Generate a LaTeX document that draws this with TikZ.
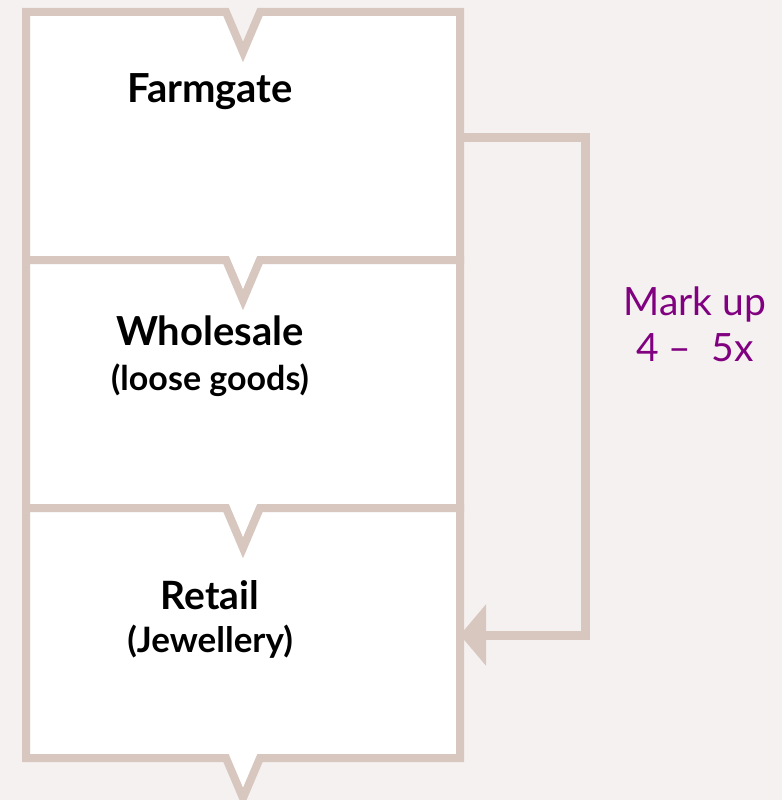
\documentclass[tikz,border=0pt]{standalone}
\usepackage{fontspec}
\setmainfont{Lato}
\usetikzlibrary{arrows.meta}
\definecolor{bgc}{HTML}{F5F1F0}
\definecolor{edgec}{HTML}{D7C7BF}
\definecolor{markc}{HTML}{800080}
\begin{document}
\begin{tikzpicture}[x=1pt,y=-1pt,
  stagebox/.style={draw=edgec, fill=white, line width=8pt, line join=miter},
  conn/.style={draw=edgec, line width=9pt, -{Triangle[length=26pt,width=60pt]}},
  stagetitle/.style={font=\fontsize{40}{44}\selectfont\bfseries, anchor=base, inner sep=0pt},
  stagesub/.style={font=\fontsize{35}{38}\selectfont\bfseries, anchor=base, inner sep=0pt},
  marklabel/.style={font=\fontsize{39}{46}\selectfont, text=markc, align=center, anchor=base, inner sep=0pt}]
\fill[bgc] (0,0) rectangle (782,800);
\useasboundingbox (0,0) rectangle (782,800);
% stage boxes (top notch, bottom point)
\foreach \t/\b in {12/260, 260/508, 508/758}{
  \path[stagebox] (26,\t) -- (226,\t) -- (243,\t+40) -- (260,\t) -- (460,\t)
    -- (460,\b) -- (260,\b) -- (243,\b+40) -- (226,\b) -- (26,\b) -- cycle;
}
\node[stagetitle] (farm) at (210,102) {Farmgate};
\node[stagetitle] (whole) at (210,345) {Wholesale};
\node[stagesub, font=\fontsize{34}{38}\selectfont\bfseries] (loose) at (210,390) {(loose goods)};
\node[stagetitle, font=\fontsize{39}{42}\selectfont\bfseries] (retail) at (210,609) {Retail};
\node[stagesub] (jew) at (210,652) {(Jewellery)};
\node[marklabel] (markup) at (695,361) {Mark up\\4 –\ \ 5x};
\coordinate (b1e) at (456,137);
\coordinate (turn) at (585,137);
\coordinate (b3e) at (460,635);
\draw[conn] (b1e) -- (turn) |- (b3e);
\end{tikzpicture}
\end{document}
